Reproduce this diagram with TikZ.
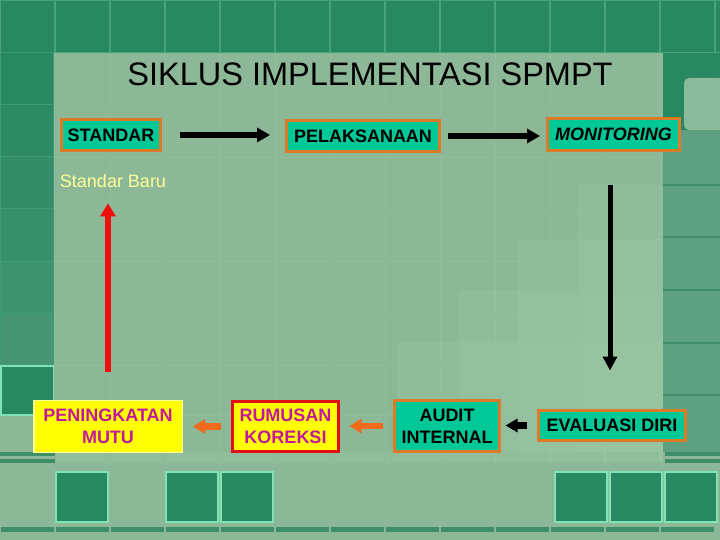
\documentclass[tikz,border=0pt]{standalone}
\usepackage{fontspec}
\setmainfont{Liberation Sans}
\usetikzlibrary{arrows.meta}
\definecolor{dkg}{HTML}{278862}
\definecolor{tileline}{HTML}{45A47C}
\definecolor{panel}{HTML}{8CB897}
\definecolor{panelline}{HTML}{91BD9C}
\definecolor{midg}{HTML}{5EA082}
\definecolor{midline}{HTML}{3E8E6A}
\definecolor{sqborder}{HTML}{7FE3B5}
\definecolor{stair}{HTML}{9DC8A6}
\definecolor{tealbox}{HTML}{00C896}
\definecolor{boxor}{HTML}{D97B29}
\definecolor{arror}{HTML}{F06A1C}
\definecolor{yeltxt}{HTML}{FFFF99}
\definecolor{mag}{HTML}{C2189C}
\definecolor{yelbox}{HTML}{FFFF00}
\definecolor{yelborder}{HTML}{FFFF9A}
\definecolor{redb}{HTML}{E01010}
\definecolor{reda}{HTML}{F01010}
\tikzset{
  boxfont/.style={font=\fontsize{18}{22}\selectfont\bfseries},
  tbox/.style={draw=boxor, line width=3pt, fill=tealbox, boxfont, inner sep=0pt, align=center, text=black},
  ybox/.style={fill=yelbox, boxfont, inner sep=0pt, align=center, text=mag},
  blkarrow/.style={draw=black, line width=5.5pt, -{Triangle[length=13pt,width=14pt]}},
  downarrow/.style={draw=black, line width=5pt, -{Triangle[length=14pt,width=14pt]}},
  redarrow/.style={draw=reda, line width=5.5pt, -{Triangle[length=13pt,width=15pt]}},
  orarrow/.style={draw=arror, line width=6.5pt, -{Triangle[length=12pt,width=14pt]}},
  smallblk/.style={draw=black, line width=6.5pt, -{Triangle[length=12pt,width=13pt]}},
  darksq/.style={fill=dkg, draw=sqborder, line width=1.5pt},
}
\begin{document}
\begin{tikzpicture}[x=1pt,y=-1pt]
\useasboundingbox (0,0) rectangle (720,540);
% ---------- background ----------
\fill[dkg] (0,0) rectangle (720,540);
\foreach \i in {0,...,13} {
  \draw[tileline, line width=1pt] (\i*55+0.5,0.5) rectangle (\i*55+54.5,52.5);
}
% left column tiles
\foreach \j/\m in {53/0,105/10,157/20,209/30,261/42,313/55} {
  \fill[dkg!\the\numexpr100-\m\relax!midg] (0,\j) rectangle (54,\j+52);
  \draw[tileline!70!dkg, line width=1pt] (0.5,\j) rectangle (53.5,\j+52);
}
% panel
\fill[panel] (54,53) rectangle (663,540);
\fill[panel] (0,415) rectangle (54,540);
\fill[panel] (663,452) rectangle (720,540);
% faint panel grid
\foreach \x in {110,165,...,660} { \draw[panelline, line width=0.8pt] (\x,53) -- (\x,465); }
\foreach \y in {105,157,209,261,313,365,415} { \draw[panelline, line width=0.8pt] (54,\y) -- (663,\y); }
% stair blocks
\fill[stair, opacity=0.3, rounded corners=4pt] (578,184) rectangle (663,462);
\fill[stair, opacity=0.3, rounded corners=4pt] (518,239) rectangle (663,462);
\fill[stair, opacity=0.3, rounded corners=4pt] (459,290) rectangle (663,462);
\fill[stair, opacity=0.3, rounded corners=4pt] (397,342) rectangle (663,462);
% right column
\fill[dkg] (663,53) rectangle (720,130);
\fill[stair!70!midg, rounded corners=5pt] (684,78) rectangle (724,130);
\fill[midg] (663,130) rectangle (720,452);
\foreach \y in {185,237,290,343,395} { \draw[midline, line width=2pt] (663,\y) -- (720,\y); }
% left dark square
\draw[darksq] (0.75,366) rectangle (53.5,415);
% strips
\foreach \x in {0,665} {
  \fill[midline] (\x,452) rectangle (\x+55,456);
  \fill[midline] (\x,459) rectangle (\x+55,463);
}
\foreach \x in {55,110,...,610} {
  \fill[panelline] (\x+1,452) rectangle (\x+54,463);
}
\foreach \x in {0,55,...,665} {
  \fill[midline] (\x+1,527) rectangle (\x+54,532);
}
% bottom dark squares
\foreach \x in {56,166,221,555,610,665} {
  \draw[darksq] (\x,472) rectangle (\x+52,522);
}
% ---------- content ----------
\node[font=\fontsize{32.5}{38}\selectfont, inner sep=0pt] (title) at (370,74) {SIKLUS IMPLEMENTASI SPMPT};

\node[tbox, minimum width=99pt, minimum height=31pt] (std) at (111,135) {STANDAR};
\node[tbox, minimum width=153pt, minimum height=31pt] (pel) at (363,136) {PELAKSANAAN};
\node[tbox, minimum width=132pt, minimum height=32pt, font=\fontsize{18}{22}\selectfont\bfseries\itshape] (mon) at (613.5,134.5) {MONITORING};

\node[font=\fontsize{18}{22}\selectfont, text=yeltxt, inner sep=0pt] (sb) at (113,181.5) {Standar Baru};

\node[ybox, draw=yelborder, line width=1.5pt, minimum width=148.5pt, minimum height=52pt] (pm) at (108,426.5) {PENINGKATAN\\MUTU};
\node[ybox, draw=redb, line width=3pt, minimum width=106pt, minimum height=50pt] (rum) at (285.5,426.5) {RUMUSAN\\KOREKSI};
\node[tbox, minimum width=105pt, minimum height=51pt] (aud) at (447,426) {AUDIT\\INTERNAL};
\node[tbox, minimum width=147pt, minimum height=30pt] (eval) at (612,425.5) {EVALUASI DIRI};

% ---------- connectors ----------
\draw[blkarrow, shorten <=18pt, shorten >=15pt] (std.east) -- (std.east -| pel.west);
\draw[blkarrow, shorten <=7pt, shorten >=6pt] (pel.east) -- (pel.east -| mon.west);
\draw[downarrow, shorten <=33.5pt, shorten >=38.5pt] ([xshift=-3.5pt]mon.south) -- ([xshift=-3.5pt]mon.south |- eval.north);
\draw[redarrow, shorten <=28pt, shorten >=15pt] (pm.north) -- (pm.north |- sb.south);
\draw[orarrow, shorten <=10.5pt, shorten >=10pt] (rum.west) -- (rum.west -| pm.east);
\draw[orarrow, shorten <=10.5pt, shorten >=9.5pt] (aud.west) -- (aud.west -| rum.east);
\draw[smallblk, shorten <=10.5pt, shorten >=4.5pt] (eval.west) -- (eval.west -| aud.east);
\end{tikzpicture}
\end{document}
